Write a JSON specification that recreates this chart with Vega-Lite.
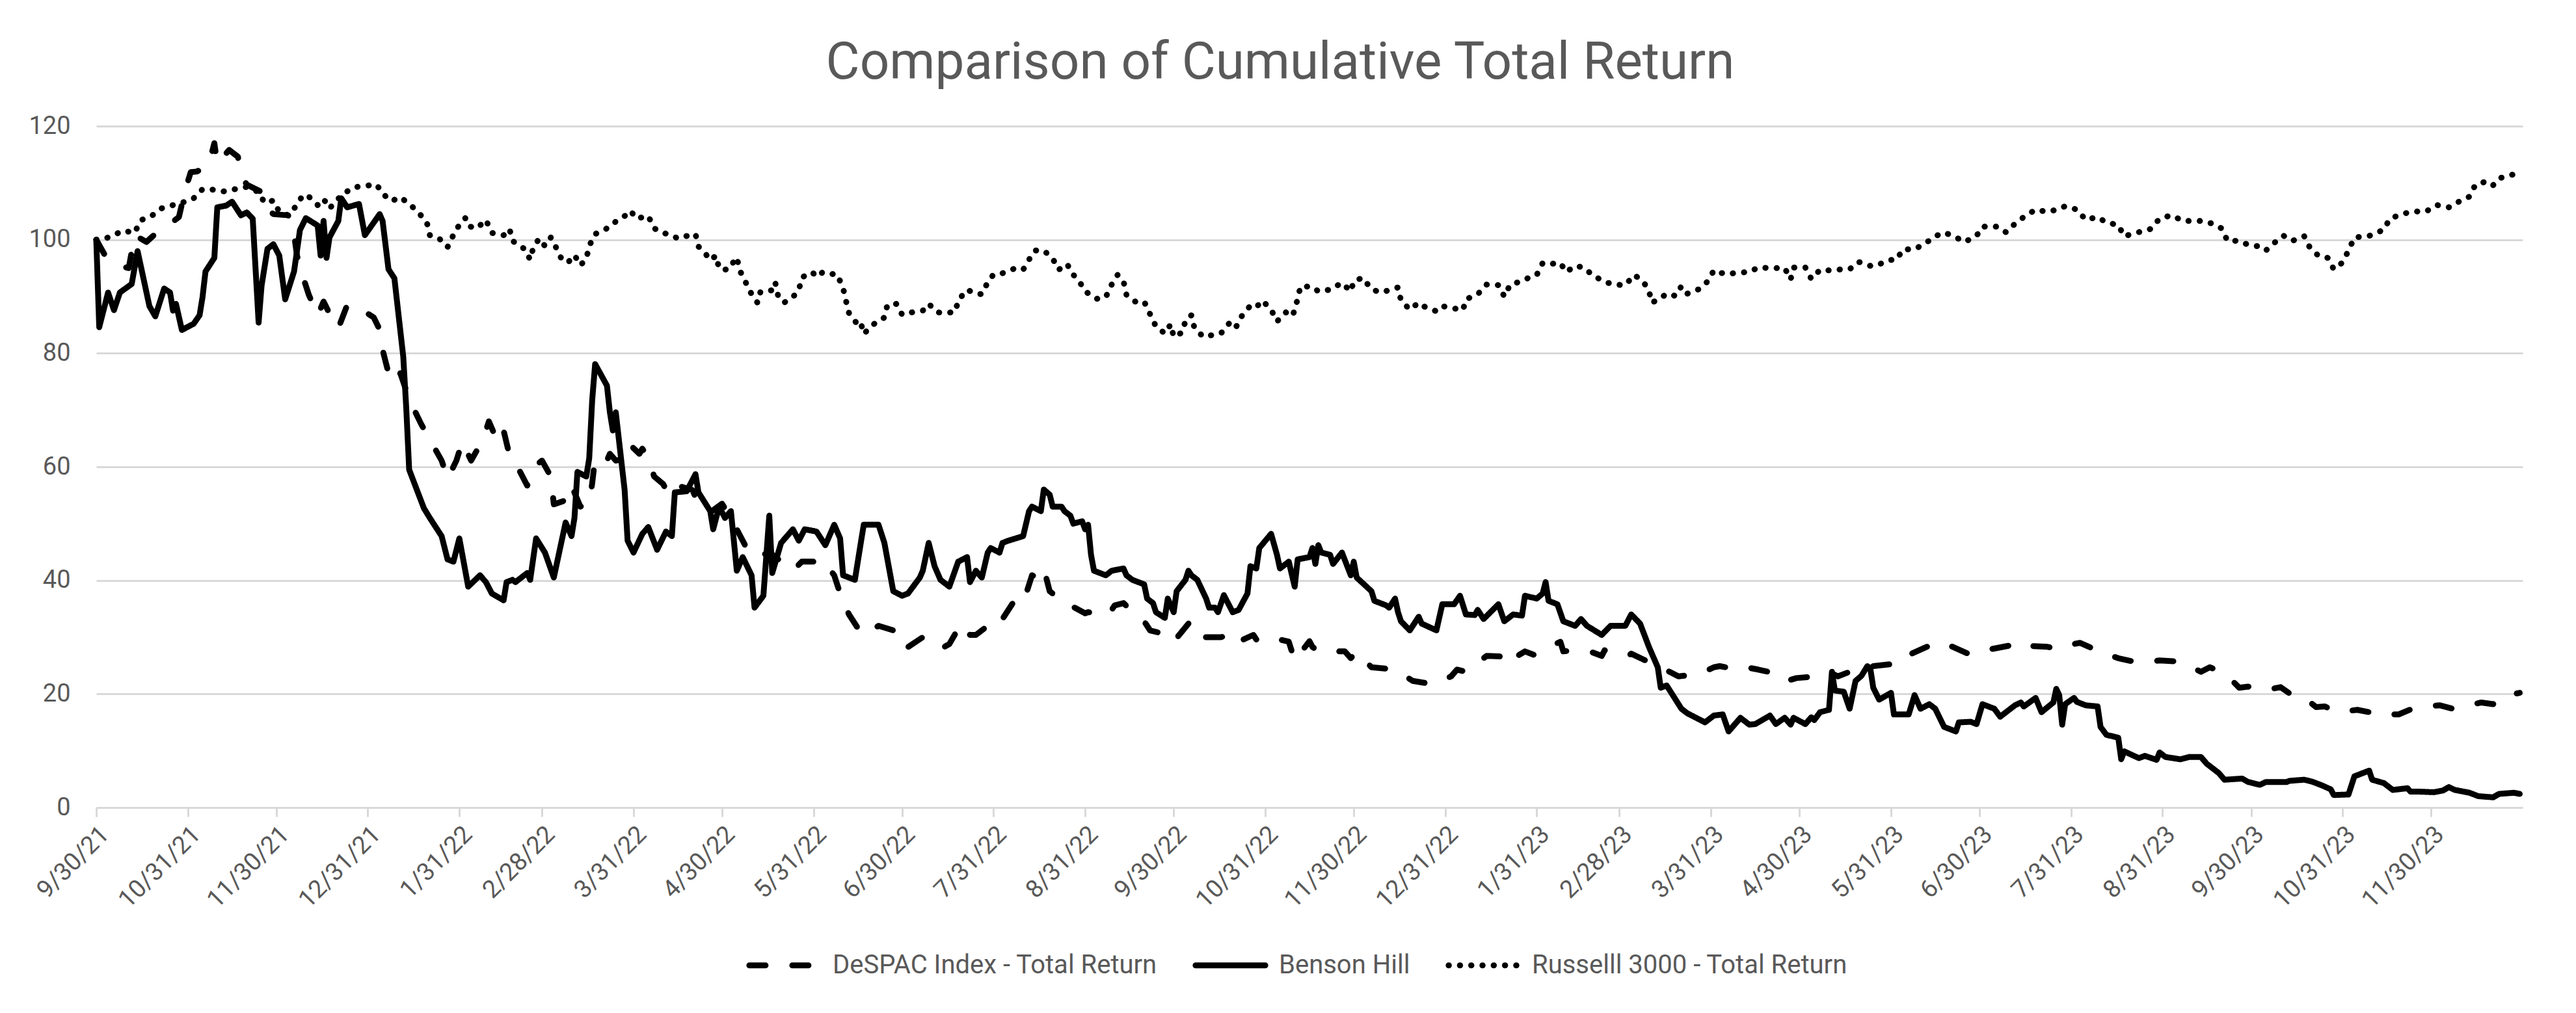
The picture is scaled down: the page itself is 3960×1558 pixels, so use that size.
{
"$schema":"https://vega.github.io/schema/vega-lite/v6.json",
"width":3730,"height":1048,
"autosize":{"type":"none"},
"padding":{"left":148,"top":194,"right":82,"bottom":316},
"background":"white",
"title":{"text":"Comparison of Cumulative Total Return","fontSize":80,"font":"Roboto","fontWeight":"normal","color":"#595959","anchor":"middle","offset":37,"dx":-45},
"config":{"view":{"stroke":null},"font":"Roboto"},
"datasets":{
"despac":[{"date":"2021-09-30","value":100},{"date":"2021-10-03","value":97.2},{"date":"2021-10-07","value":95.5},{"date":"2021-10-11","value":95},{"date":"2021-10-13","value":100.8},{"date":"2021-10-17","value":99.6},{"date":"2021-10-21","value":101.5},{"date":"2021-10-24","value":102.4},{"date":"2021-10-28","value":104},{"date":"2021-10-30","value":108.5},{"date":"2021-11-01","value":111.9},{"date":"2021-11-03","value":112},{"date":"2021-11-07","value":113},{"date":"2021-11-09","value":117},{"date":"2021-11-10","value":113.4},{"date":"2021-11-14","value":115.8},{"date":"2021-11-17","value":114.6},{"date":"2021-11-18","value":111.4},{"date":"2021-11-20","value":109.7},{"date":"2021-11-25","value":108.4},{"date":"2021-11-27","value":105.5},{"date":"2021-11-29","value":104.5},{"date":"2021-12-04","value":104.3},{"date":"2021-12-06","value":101},{"date":"2021-12-07","value":97.2},{"date":"2021-12-09","value":93.5},{"date":"2021-12-11","value":90.3},{"date":"2021-12-14","value":86.7},{"date":"2021-12-16","value":89.1},{"date":"2021-12-18","value":87},{"date":"2021-12-21","value":84.4},{"date":"2021-12-24","value":88.5},{"date":"2021-12-28","value":88},{"date":"2022-01-02","value":86.3},{"date":"2022-01-04","value":84.2},{"date":"2022-01-05","value":80.6},{"date":"2022-01-07","value":76.5},{"date":"2022-01-10","value":74.9},{"date":"2022-01-11","value":76.5},{"date":"2022-01-14","value":71.9},{"date":"2022-01-18","value":67.6},{"date":"2022-01-21","value":64.8},{"date":"2022-01-25","value":61.1},{"date":"2022-01-27","value":57.9},{"date":"2022-01-30","value":61.1},{"date":"2022-02-01","value":64.4},{"date":"2022-02-04","value":61.1},{"date":"2022-02-08","value":64.8},{"date":"2022-02-10","value":68},{"date":"2022-02-13","value":64.4},{"date":"2022-02-15","value":66.4},{"date":"2022-02-17","value":62},{"date":"2022-02-19","value":60.7},{"date":"2022-02-23","value":56.7},{"date":"2022-02-25","value":59.9},{"date":"2022-02-28","value":61.1},{"date":"2022-03-03","value":58.3},{"date":"2022-03-04","value":53.4},{"date":"2022-03-09","value":54.3},{"date":"2022-03-10","value":56.7},{"date":"2022-03-13","value":53},{"date":"2022-03-16","value":53.4},{"date":"2022-03-17","value":57.1},{"date":"2022-03-18","value":61.5},{"date":"2022-03-22","value":61.1},{"date":"2022-03-23","value":62.3},{"date":"2022-03-25","value":61.1},{"date":"2022-03-29","value":61.5},{"date":"2022-03-30","value":63.8},{"date":"2022-04-02","value":62.3},{"date":"2022-04-03","value":63.2},{"date":"2022-04-05","value":61.5},{"date":"2022-04-07","value":58.3},{"date":"2022-04-10","value":57},{"date":"2022-04-12","value":55.1},{"date":"2022-04-15","value":56.7},{"date":"2022-04-20","value":55.9},{"date":"2022-04-22","value":53.4},{"date":"2022-04-26","value":52},{"date":"2022-04-30","value":53.5},{"date":"2022-05-04","value":50},{"date":"2022-05-08","value":46},{"date":"2022-05-12","value":44},{"date":"2022-05-16","value":45},{"date":"2022-05-20","value":43.3},{"date":"2022-05-24","value":41.7},{"date":"2022-05-27","value":43.3},{"date":"2022-06-01","value":43.3},{"date":"2022-06-03","value":43.7},{"date":"2022-06-07","value":40.9},{"date":"2022-06-09","value":37.7},{"date":"2022-06-12","value":34},{"date":"2022-06-15","value":31.6},{"date":"2022-06-17","value":30.4},{"date":"2022-06-22","value":32},{"date":"2022-06-27","value":31.2},{"date":"2022-07-01","value":27.9},{"date":"2022-07-07","value":30},{"date":"2022-07-11","value":29.6},{"date":"2022-07-14","value":28.2},{"date":"2022-07-16","value":28.8},{"date":"2022-07-20","value":32.4},{"date":"2022-07-23","value":30.4},{"date":"2022-07-25","value":30.4},{"date":"2022-07-29","value":32},{"date":"2022-07-30","value":32.8},{"date":"2022-08-02","value":32.4},{"date":"2022-08-07","value":36.4},{"date":"2022-08-10","value":36},{"date":"2022-08-13","value":40.9},{"date":"2022-08-15","value":40.5},{"date":"2022-08-17","value":42.1},{"date":"2022-08-19","value":38.1},{"date":"2022-08-24","value":36},{"date":"2022-08-26","value":35.6},{"date":"2022-08-31","value":34.2},{"date":"2022-09-01","value":34.4},{"date":"2022-09-08","value":34},{"date":"2022-09-10","value":35.6},{"date":"2022-09-13","value":36},{"date":"2022-09-17","value":34},{"date":"2022-09-20","value":32.8},{"date":"2022-09-21","value":32},{"date":"2022-09-22","value":31.2},{"date":"2022-09-28","value":30.4},{"date":"2022-09-30","value":29.2},{"date":"2022-10-05","value":32.4},{"date":"2022-10-07","value":32},{"date":"2022-10-08","value":30},{"date":"2022-10-16","value":30},{"date":"2022-10-19","value":30.4},{"date":"2022-10-20","value":29.2},{"date":"2022-10-22","value":29.2},{"date":"2022-10-27","value":30.4},{"date":"2022-10-28","value":29.6},{"date":"2022-10-29","value":30},{"date":"2022-11-01","value":30.1},{"date":"2022-11-08","value":29.2},{"date":"2022-11-10","value":25.9},{"date":"2022-11-15","value":29.3},{"date":"2022-11-16","value":28.3},{"date":"2022-11-18","value":27.5},{"date":"2022-11-20","value":27.5},{"date":"2022-11-27","value":27.5},{"date":"2022-11-29","value":26.3},{"date":"2022-12-01","value":27.5},{"date":"2022-12-06","value":24.7},{"date":"2022-12-14","value":24.3},{"date":"2022-12-20","value":22.3},{"date":"2022-12-27","value":21.7},{"date":"2023-01-02","value":23.1},{"date":"2023-01-04","value":24.3},{"date":"2023-01-07","value":23.9},{"date":"2023-01-14","value":26.7},{"date":"2023-01-19","value":26.6},{"date":"2023-01-20","value":25.3},{"date":"2023-01-27","value":27.5},{"date":"2023-01-30","value":26.9},{"date":"2023-02-01","value":27.5},{"date":"2023-02-08","value":29.2},{"date":"2023-02-09","value":27.5},{"date":"2023-02-13","value":27.7},{"date":"2023-02-18","value":27.5},{"date":"2023-02-22","value":26.7},{"date":"2023-02-23","value":27.7},{"date":"2023-02-25","value":27.5},{"date":"2023-03-03","value":26.7},{"date":"2023-03-04","value":27.1},{"date":"2023-03-08","value":26.1},{"date":"2023-03-14","value":24.7},{"date":"2023-03-20","value":23.1},{"date":"2023-03-27","value":23.5},{"date":"2023-04-01","value":24.7},{"date":"2023-04-03","value":24.9},{"date":"2023-04-09","value":24.3},{"date":"2023-04-12","value":24.7},{"date":"2023-04-16","value":24.3},{"date":"2023-04-23","value":23.5},{"date":"2023-04-26","value":22.3},{"date":"2023-04-27","value":22.5},{"date":"2023-04-29","value":22.8},{"date":"2023-05-06","value":23.1},{"date":"2023-05-10","value":23.9},{"date":"2023-05-13","value":23.1},{"date":"2023-05-19","value":24.3},{"date":"2023-05-25","value":24.9},{"date":"2023-06-01","value":25.3},{"date":"2023-06-03","value":26.3},{"date":"2023-06-06","value":26.6},{"date":"2023-06-07","value":27.1},{"date":"2023-06-13","value":28.5},{"date":"2023-06-15","value":27.9},{"date":"2023-06-20","value":28.5},{"date":"2023-06-27","value":26.9},{"date":"2023-07-04","value":27.9},{"date":"2023-07-10","value":28.5},{"date":"2023-07-13","value":29.2},{"date":"2023-07-16","value":28.5},{"date":"2023-07-23","value":28.3},{"date":"2023-07-27","value":27.9},{"date":"2023-07-29","value":28.5},{"date":"2023-08-03","value":29},{"date":"2023-08-10","value":27.4},{"date":"2023-08-16","value":26.3},{"date":"2023-08-23","value":25.5},{"date":"2023-08-30","value":25.9},{"date":"2023-09-06","value":25.7},{"date":"2023-09-13","value":23.9},{"date":"2023-09-16","value":24.7},{"date":"2023-09-21","value":23.7},{"date":"2023-09-26","value":21.1},{"date":"2023-09-29","value":21.3},{"date":"2023-10-04","value":20.6},{"date":"2023-10-10","value":21.2},{"date":"2023-10-13","value":20.1},{"date":"2023-10-17","value":19.8},{"date":"2023-10-22","value":17.7},{"date":"2023-10-25","value":17.8},{"date":"2023-10-29","value":16.8},{"date":"2023-11-05","value":17.2},{"date":"2023-11-09","value":16.8},{"date":"2023-11-10","value":16.4},{"date":"2023-11-13","value":16.4},{"date":"2023-11-19","value":16.4},{"date":"2023-11-25","value":17.7},{"date":"2023-12-03","value":18},{"date":"2023-12-08","value":17.3},{"date":"2023-12-10","value":17.7},{"date":"2023-12-17","value":18.5},{"date":"2023-12-21","value":18.2},{"date":"2023-12-24","value":19.6},{"date":"2023-12-27","value":19.9},{"date":"2023-12-30","value":20.2}],
"benson":[{"date":"2021-09-30","value":100},{"date":"2021-10-01","value":84.6},{"date":"2021-10-04","value":90.7},{"date":"2021-10-06","value":87.6},{"date":"2021-10-08","value":90.7},{"date":"2021-10-12","value":92.2},{"date":"2021-10-14","value":98},{"date":"2021-10-18","value":88.3},{"date":"2021-10-20","value":86.5},{"date":"2021-10-23","value":91.4},{"date":"2021-10-25","value":90.7},{"date":"2021-10-26","value":87.5},{"date":"2021-10-27","value":88.7},{"date":"2021-10-29","value":84.1},{"date":"2021-11-02","value":85.2},{"date":"2021-11-04","value":86.7},{"date":"2021-11-05","value":89.9},{"date":"2021-11-06","value":94.4},{"date":"2021-11-09","value":96.8},{"date":"2021-11-10","value":105.7},{"date":"2021-11-13","value":106},{"date":"2021-11-15","value":106.7},{"date":"2021-11-18","value":104.3},{"date":"2021-11-20","value":104.8},{"date":"2021-11-22","value":103.7},{"date":"2021-11-24","value":85.4},{"date":"2021-11-25","value":91.9},{"date":"2021-11-27","value":98.4},{"date":"2021-11-29","value":99.2},{"date":"2021-12-01","value":97.2},{"date":"2021-12-03","value":89.5},{"date":"2021-12-06","value":94.4},{"date":"2021-12-08","value":101.7},{"date":"2021-12-10","value":103.8},{"date":"2021-12-14","value":102.5},{"date":"2021-12-15","value":97.2},{"date":"2021-12-16","value":103.3},{"date":"2021-12-17","value":96.8},{"date":"2021-12-18","value":100.4},{"date":"2021-12-21","value":103.3},{"date":"2021-12-22","value":107.3},{"date":"2021-12-24","value":105.7},{"date":"2021-12-28","value":106.3},{"date":"2021-12-30","value":100.8},{"date":"2022-01-04","value":104.5},{"date":"2022-01-05","value":103.3},{"date":"2022-01-07","value":94.8},{"date":"2022-01-09","value":93.2},{"date":"2022-01-12","value":79.4},{"date":"2022-01-13","value":70.5},{"date":"2022-01-14","value":59.5},{"date":"2022-01-19","value":52.7},{"date":"2022-01-21","value":51},{"date":"2022-01-25","value":47.8},{"date":"2022-01-27","value":43.7},{"date":"2022-01-29","value":43.3},{"date":"2022-01-31","value":47.4},{"date":"2022-02-03","value":38.9},{"date":"2022-02-07","value":40.9},{"date":"2022-02-09","value":39.7},{"date":"2022-02-11","value":37.7},{"date":"2022-02-15","value":36.5},{"date":"2022-02-16","value":39.7},{"date":"2022-02-18","value":40.1},{"date":"2022-02-19","value":39.7},{"date":"2022-02-23","value":41.3},{"date":"2022-02-24","value":40.1},{"date":"2022-02-26","value":47.4},{"date":"2022-03-01","value":44.9},{"date":"2022-03-04","value":40.5},{"date":"2022-03-08","value":50.2},{"date":"2022-03-10","value":47.8},{"date":"2022-03-11","value":51},{"date":"2022-03-12","value":59.1},{"date":"2022-03-15","value":58.3},{"date":"2022-03-16","value":61.5},{"date":"2022-03-17","value":71.7},{"date":"2022-03-18","value":78.1},{"date":"2022-03-22","value":74.3},{"date":"2022-03-23","value":69.6},{"date":"2022-03-24","value":66.4},{"date":"2022-03-25","value":69.6},{"date":"2022-03-28","value":55.9},{"date":"2022-03-29","value":47},{"date":"2022-03-31","value":44.9},{"date":"2022-04-03","value":48.2},{"date":"2022-04-05","value":49.4},{"date":"2022-04-08","value":45.4},{"date":"2022-04-11","value":48.6},{"date":"2022-04-13","value":47.8},{"date":"2022-04-14","value":55.5},{"date":"2022-04-18","value":55.7},{"date":"2022-04-21","value":58.7},{"date":"2022-04-22","value":55.5},{"date":"2022-04-26","value":52.2},{"date":"2022-04-27","value":49},{"date":"2022-04-29","value":53},{"date":"2022-05-01","value":51},{"date":"2022-05-03","value":52.2},{"date":"2022-05-05","value":41.7},{"date":"2022-05-07","value":44.1},{"date":"2022-05-10","value":40.9},{"date":"2022-05-11","value":35.2},{"date":"2022-05-14","value":37.3},{"date":"2022-05-16","value":51.4},{"date":"2022-05-17","value":41.3},{"date":"2022-05-20","value":46.6},{"date":"2022-05-24","value":49},{"date":"2022-05-26","value":47},{"date":"2022-05-28","value":49},{"date":"2022-06-01","value":48.6},{"date":"2022-06-04","value":46.2},{"date":"2022-06-07","value":49.8},{"date":"2022-06-09","value":47.4},{"date":"2022-06-10","value":40.9},{"date":"2022-06-14","value":40.1},{"date":"2022-06-16","value":46.6},{"date":"2022-06-17","value":49.8},{"date":"2022-06-22","value":49.8},{"date":"2022-06-24","value":46.6},{"date":"2022-06-27","value":38.1},{"date":"2022-06-30","value":37.3},{"date":"2022-07-02","value":37.7},{"date":"2022-07-06","value":40.5},{"date":"2022-07-07","value":41.7},{"date":"2022-07-09","value":46.6},{"date":"2022-07-11","value":42.5},{"date":"2022-07-13","value":40.1},{"date":"2022-07-16","value":38.9},{"date":"2022-07-19","value":43.3},{"date":"2022-07-22","value":44.1},{"date":"2022-07-23","value":39.7},{"date":"2022-07-25","value":41.7},{"date":"2022-07-27","value":40.5},{"date":"2022-07-29","value":44.9},{"date":"2022-07-30","value":45.7},{"date":"2022-08-02","value":44.9},{"date":"2022-08-03","value":46.6},{"date":"2022-08-05","value":47},{"date":"2022-08-10","value":47.8},{"date":"2022-08-12","value":52.2},{"date":"2022-08-13","value":53},{"date":"2022-08-16","value":52.2},{"date":"2022-08-17","value":56},{"date":"2022-08-19","value":55.1},{"date":"2022-08-20","value":53},{"date":"2022-08-23","value":53},{"date":"2022-08-24","value":52.2},{"date":"2022-08-26","value":51.4},{"date":"2022-08-27","value":50},{"date":"2022-08-30","value":50.4},{"date":"2022-08-31","value":49},{"date":"2022-09-01","value":49.8},{"date":"2022-09-02","value":44.5},{"date":"2022-09-03","value":41.7},{"date":"2022-09-07","value":40.9},{"date":"2022-09-09","value":41.7},{"date":"2022-09-13","value":42.1},{"date":"2022-09-14","value":40.9},{"date":"2022-09-16","value":40.1},{"date":"2022-09-20","value":39.3},{"date":"2022-09-21","value":36.8},{"date":"2022-09-23","value":36},{"date":"2022-09-24","value":34.4},{"date":"2022-09-27","value":33.4},{"date":"2022-09-28","value":36.8},{"date":"2022-09-30","value":34.4},{"date":"2022-10-01","value":38.1},{"date":"2022-10-04","value":40.1},{"date":"2022-10-05","value":41.7},{"date":"2022-10-06","value":40.9},{"date":"2022-10-08","value":40.1},{"date":"2022-10-11","value":36.8},{"date":"2022-10-12","value":35.2},{"date":"2022-10-14","value":35.2},{"date":"2022-10-15","value":34.4},{"date":"2022-10-17","value":37.4},{"date":"2022-10-20","value":34.4},{"date":"2022-10-22","value":34.8},{"date":"2022-10-25","value":37.7},{"date":"2022-10-26","value":42.5},{"date":"2022-10-28","value":42.1},{"date":"2022-10-29","value":45.7},{"date":"2022-11-02","value":48.2},{"date":"2022-11-04","value":44.5},{"date":"2022-11-05","value":42.1},{"date":"2022-11-08","value":43.3},{"date":"2022-11-10","value":38.9},{"date":"2022-11-11","value":43.7},{"date":"2022-11-15","value":44.1},{"date":"2022-11-16","value":45.7},{"date":"2022-11-17","value":42.9},{"date":"2022-11-18","value":46.2},{"date":"2022-11-19","value":44.9},{"date":"2022-11-22","value":44.5},{"date":"2022-11-23","value":42.9},{"date":"2022-11-26","value":44.9},{"date":"2022-11-29","value":40.9},{"date":"2022-11-30","value":43.3},{"date":"2022-12-01","value":40.5},{"date":"2022-12-06","value":38.1},{"date":"2022-12-07","value":36.4},{"date":"2022-12-11","value":35.6},{"date":"2022-12-12","value":35.2},{"date":"2022-12-14","value":36.8},{"date":"2022-12-15","value":34.4},{"date":"2022-12-16","value":32.8},{"date":"2022-12-19","value":31.2},{"date":"2022-12-22","value":33.6},{"date":"2022-12-23","value":32.4},{"date":"2022-12-28","value":31.2},{"date":"2022-12-30","value":35.8},{"date":"2023-01-03","value":35.8},{"date":"2023-01-05","value":37.3},{"date":"2023-01-07","value":34},{"date":"2023-01-10","value":33.9},{"date":"2023-01-11","value":34.8},{"date":"2023-01-13","value":33.2},{"date":"2023-01-18","value":35.8},{"date":"2023-01-20","value":32.8},{"date":"2023-01-23","value":34},{"date":"2023-01-26","value":33.8},{"date":"2023-01-27","value":37.3},{"date":"2023-01-31","value":36.8},{"date":"2023-02-02","value":37.7},{"date":"2023-02-03","value":39.7},{"date":"2023-02-04","value":36.4},{"date":"2023-02-07","value":35.8},{"date":"2023-02-09","value":32.8},{"date":"2023-02-13","value":32},{"date":"2023-02-15","value":33.2},{"date":"2023-02-17","value":32},{"date":"2023-02-22","value":30.4},{"date":"2023-02-25","value":32},{"date":"2023-02-28","value":32},{"date":"2023-03-02","value":32},{"date":"2023-03-04","value":34},{"date":"2023-03-07","value":32.4},{"date":"2023-03-10","value":28.3},{"date":"2023-03-13","value":24.7},{"date":"2023-03-14","value":21.1},{"date":"2023-03-16","value":21.5},{"date":"2023-03-21","value":17.4},{"date":"2023-03-23","value":16.6},{"date":"2023-03-29","value":15},{"date":"2023-04-01","value":16.2},{"date":"2023-04-04","value":16.4},{"date":"2023-04-06","value":13.4},{"date":"2023-04-10","value":15.8},{"date":"2023-04-13","value":14.6},{"date":"2023-04-15","value":14.7},{"date":"2023-04-20","value":16.2},{"date":"2023-04-22","value":14.7},{"date":"2023-04-25","value":15.8},{"date":"2023-04-27","value":14.6},{"date":"2023-04-28","value":15.8},{"date":"2023-05-02","value":14.7},{"date":"2023-05-04","value":15.9},{"date":"2023-05-05","value":15.4},{"date":"2023-05-07","value":16.8},{"date":"2023-05-10","value":17.2},{"date":"2023-05-11","value":23.9},{"date":"2023-05-12","value":20.6},{"date":"2023-05-15","value":20.4},{"date":"2023-05-17","value":17.4},{"date":"2023-05-19","value":22.3},{"date":"2023-05-21","value":23.2},{"date":"2023-05-23","value":24.9},{"date":"2023-05-24","value":24.5},{"date":"2023-05-25","value":21.1},{"date":"2023-05-27","value":19},{"date":"2023-05-31","value":20.2},{"date":"2023-06-01","value":16.4},{"date":"2023-06-06","value":16.4},{"date":"2023-06-08","value":19.8},{"date":"2023-06-10","value":17.4},{"date":"2023-06-13","value":18.2},{"date":"2023-06-15","value":17.4},{"date":"2023-06-18","value":14.2},{"date":"2023-06-22","value":13.4},{"date":"2023-06-23","value":15},{"date":"2023-06-27","value":15.1},{"date":"2023-06-29","value":14.7},{"date":"2023-07-01","value":18.2},{"date":"2023-07-05","value":17.4},{"date":"2023-07-07","value":16},{"date":"2023-07-12","value":18},{"date":"2023-07-14","value":18.5},{"date":"2023-07-15","value":17.8},{"date":"2023-07-19","value":19.3},{"date":"2023-07-21","value":16.8},{"date":"2023-07-25","value":18.5},{"date":"2023-07-26","value":20.9},{"date":"2023-07-27","value":19.8},{"date":"2023-07-28","value":14.6},{"date":"2023-07-29","value":18.2},{"date":"2023-08-01","value":19.3},{"date":"2023-08-02","value":18.6},{"date":"2023-08-05","value":18},{"date":"2023-08-09","value":17.8},{"date":"2023-08-10","value":14.2},{"date":"2023-08-12","value":12.8},{"date":"2023-08-16","value":12.3},{"date":"2023-08-17","value":8.5},{"date":"2023-08-18","value":9.9},{"date":"2023-08-23","value":8.7},{"date":"2023-08-25","value":9.1},{"date":"2023-08-29","value":8.4},{"date":"2023-08-30","value":9.7},{"date":"2023-09-01","value":8.9},{"date":"2023-09-06","value":8.5},{"date":"2023-09-09","value":8.9},{"date":"2023-09-13","value":8.9},{"date":"2023-09-15","value":7.7},{"date":"2023-09-17","value":6.9},{"date":"2023-09-19","value":6.1},{"date":"2023-09-21","value":4.9},{"date":"2023-09-27","value":5.1},{"date":"2023-09-29","value":4.5},{"date":"2023-10-03","value":4},{"date":"2023-10-05","value":4.5},{"date":"2023-10-12","value":4.5},{"date":"2023-10-13","value":4.7},{"date":"2023-10-18","value":4.9},{"date":"2023-10-21","value":4.5},{"date":"2023-10-24","value":3.9},{"date":"2023-10-27","value":3.2},{"date":"2023-10-28","value":2.2},{"date":"2023-11-02","value":2.3},{"date":"2023-11-04","value":5.5},{"date":"2023-11-09","value":6.5},{"date":"2023-11-10","value":4.9},{"date":"2023-11-14","value":4.3},{"date":"2023-11-17","value":3.1},{"date":"2023-11-22","value":3.4},{"date":"2023-11-23","value":2.8},{"date":"2023-11-26","value":2.8},{"date":"2023-12-01","value":2.7},{"date":"2023-12-04","value":3},{"date":"2023-12-06","value":3.6},{"date":"2023-12-08","value":3.1},{"date":"2023-12-13","value":2.6},{"date":"2023-12-16","value":2},{"date":"2023-12-21","value":1.8},{"date":"2023-12-23","value":2.4},{"date":"2023-12-28","value":2.6},{"date":"2023-12-30","value":2.4}],
"russell":[{"date":"2021-09-30","value":100},{"date":"2021-10-03","value":100.2},{"date":"2021-10-06","value":100.8},{"date":"2021-10-09","value":101.6},{"date":"2021-10-13","value":101.2},{"date":"2021-10-15","value":103.4},{"date":"2021-10-19","value":104.3},{"date":"2021-10-22","value":105.5},{"date":"2021-10-26","value":106.1},{"date":"2021-10-29","value":106.5},{"date":"2021-11-02","value":107.3},{"date":"2021-11-05","value":108.9},{"date":"2021-11-09","value":108.8},{"date":"2021-11-12","value":108.5},{"date":"2021-11-16","value":108.9},{"date":"2021-11-20","value":109.3},{"date":"2021-11-24","value":108.4},{"date":"2021-11-26","value":106.5},{"date":"2021-11-29","value":106.9},{"date":"2021-12-01","value":104.9},{"date":"2021-12-04","value":104.3},{"date":"2021-12-07","value":106.1},{"date":"2021-12-09","value":107.9},{"date":"2021-12-11","value":107.6},{"date":"2021-12-14","value":106.1},{"date":"2021-12-16","value":107.2},{"date":"2021-12-18","value":105.5},{"date":"2021-12-22","value":107.8},{"date":"2021-12-26","value":109.2},{"date":"2021-12-30","value":109.5},{"date":"2022-01-03","value":109.7},{"date":"2022-01-05","value":108.1},{"date":"2022-01-08","value":106.8},{"date":"2022-01-11","value":107.5},{"date":"2022-01-14","value":106.3},{"date":"2022-01-17","value":104.9},{"date":"2022-01-20","value":103},{"date":"2022-01-21","value":100.8},{"date":"2022-01-24","value":100.3},{"date":"2022-01-27","value":98.7},{"date":"2022-01-28","value":99.8},{"date":"2022-01-30","value":101.9},{"date":"2022-02-02","value":103.8},{"date":"2022-02-03","value":102.4},{"date":"2022-02-06","value":102},{"date":"2022-02-09","value":103.5},{"date":"2022-02-11","value":101.2},{"date":"2022-02-15","value":100.8},{"date":"2022-02-17","value":101.9},{"date":"2022-02-18","value":99.8},{"date":"2022-02-22","value":98.4},{"date":"2022-02-24","value":96.5},{"date":"2022-02-25","value":98.5},{"date":"2022-02-27","value":100.2},{"date":"2022-03-01","value":98.9},{"date":"2022-03-03","value":100.4},{"date":"2022-03-05","value":98.4},{"date":"2022-03-07","value":96.2},{"date":"2022-03-09","value":96.1},{"date":"2022-03-11","value":97.3},{"date":"2022-03-13","value":95.5},{"date":"2022-03-15","value":96.6},{"date":"2022-03-16","value":98.9},{"date":"2022-03-18","value":101},{"date":"2022-03-21","value":101.7},{"date":"2022-03-23","value":102.3},{"date":"2022-03-25","value":103.2},{"date":"2022-03-29","value":104.5},{"date":"2022-03-30","value":105.1},{"date":"2022-04-01","value":103.7},{"date":"2022-04-05","value":104.2},{"date":"2022-04-07","value":102},{"date":"2022-04-10","value":101.2},{"date":"2022-04-13","value":100.8},{"date":"2022-04-15","value":100.2},{"date":"2022-04-19","value":100.8},{"date":"2022-04-21","value":101},{"date":"2022-04-22","value":98.8},{"date":"2022-04-24","value":97.8},{"date":"2022-04-26","value":96.4},{"date":"2022-04-28","value":97.2},{"date":"2022-04-29","value":94.9},{"date":"2022-05-02","value":94.7},{"date":"2022-05-05","value":96.9},{"date":"2022-05-06","value":94.6},{"date":"2022-05-08","value":92.5},{"date":"2022-05-10","value":90.4},{"date":"2022-05-12","value":88.9},{"date":"2022-05-13","value":90.8},{"date":"2022-05-17","value":91.1},{"date":"2022-05-18","value":92.5},{"date":"2022-05-19","value":90.1},{"date":"2022-05-21","value":88.9},{"date":"2022-05-24","value":89.9},{"date":"2022-05-26","value":91.1},{"date":"2022-05-27","value":93.3},{"date":"2022-05-30","value":94.3},{"date":"2022-06-02","value":93.5},{"date":"2022-06-03","value":94.3},{"date":"2022-06-07","value":93.9},{"date":"2022-06-08","value":93.9},{"date":"2022-06-10","value":91.5},{"date":"2022-06-11","value":89.2},{"date":"2022-06-12","value":87.1},{"date":"2022-06-15","value":85},{"date":"2022-06-16","value":85.4},{"date":"2022-06-17","value":83.4},{"date":"2022-06-20","value":85},{"date":"2022-06-24","value":86.3},{"date":"2022-06-25","value":88.5},{"date":"2022-06-28","value":88.7},{"date":"2022-06-30","value":86.8},{"date":"2022-07-02","value":87.1},{"date":"2022-07-07","value":87.5},{"date":"2022-07-09","value":88.7},{"date":"2022-07-12","value":87.2},{"date":"2022-07-15","value":87.1},{"date":"2022-07-18","value":87.3},{"date":"2022-07-19","value":89.3},{"date":"2022-07-22","value":91.2},{"date":"2022-07-25","value":90.5},{"date":"2022-07-27","value":90.4},{"date":"2022-07-29","value":92.5},{"date":"2022-07-31","value":93.9},{"date":"2022-08-03","value":94.1},{"date":"2022-08-07","value":94.9},{"date":"2022-08-10","value":94.7},{"date":"2022-08-12","value":96.5},{"date":"2022-08-14","value":98.1},{"date":"2022-08-17","value":98.1},{"date":"2022-08-20","value":96.7},{"date":"2022-08-22","value":94.7},{"date":"2022-08-25","value":95.7},{"date":"2022-08-26","value":94.4},{"date":"2022-08-29","value":92.7},{"date":"2022-08-31","value":90.9},{"date":"2022-09-04","value":89.6},{"date":"2022-09-07","value":89.9},{"date":"2022-09-09","value":92.1},{"date":"2022-09-11","value":93.8},{"date":"2022-09-13","value":92.7},{"date":"2022-09-14","value":90.3},{"date":"2022-09-17","value":89.1},{"date":"2022-09-20","value":89.1},{"date":"2022-09-22","value":86.9},{"date":"2022-09-24","value":84.7},{"date":"2022-09-27","value":83.5},{"date":"2022-09-29","value":85.1},{"date":"2022-09-30","value":82.9},{"date":"2022-10-03","value":83.7},{"date":"2022-10-04","value":85.8},{"date":"2022-10-06","value":86.7},{"date":"2022-10-07","value":84.5},{"date":"2022-10-10","value":82.9},{"date":"2022-10-13","value":83.2},{"date":"2022-10-16","value":83.5},{"date":"2022-10-19","value":85.4},{"date":"2022-10-21","value":84.5},{"date":"2022-10-23","value":86.5},{"date":"2022-10-26","value":88.4},{"date":"2022-10-28","value":88.1},{"date":"2022-10-30","value":89.3},{"date":"2022-11-02","value":87.7},{"date":"2022-11-04","value":85.6},{"date":"2022-11-07","value":87.2},{"date":"2022-11-09","value":86.5},{"date":"2022-11-10","value":87.5},{"date":"2022-11-12","value":91.8},{"date":"2022-11-16","value":91.7},{"date":"2022-11-18","value":90.9},{"date":"2022-11-22","value":91.2},{"date":"2022-11-26","value":92.4},{"date":"2022-11-29","value":90.9},{"date":"2022-11-30","value":92.7},{"date":"2022-12-03","value":93.3},{"date":"2022-12-06","value":91.3},{"date":"2022-12-09","value":90.7},{"date":"2022-12-12","value":91.1},{"date":"2022-12-15","value":91.6},{"date":"2022-12-16","value":89.3},{"date":"2022-12-19","value":87.7},{"date":"2022-12-22","value":88.9},{"date":"2022-12-24","value":88.2},{"date":"2022-12-28","value":87.4},{"date":"2022-12-30","value":88.3},{"date":"2023-01-03","value":87.9},{"date":"2023-01-06","value":87.6},{"date":"2023-01-07","value":89.5},{"date":"2023-01-11","value":90.4},{"date":"2023-01-14","value":92.1},{"date":"2023-01-18","value":92},{"date":"2023-01-20","value":90},{"date":"2023-01-22","value":92.1},{"date":"2023-01-26","value":92.7},{"date":"2023-01-29","value":93.5},{"date":"2023-01-31","value":93.8},{"date":"2023-02-02","value":95.9},{"date":"2023-02-04","value":95.7},{"date":"2023-02-08","value":95.9},{"date":"2023-02-10","value":94.3},{"date":"2023-02-13","value":95.4},{"date":"2023-02-16","value":95.1},{"date":"2023-02-19","value":93.7},{"date":"2023-02-23","value":92.6},{"date":"2023-02-26","value":92.1},{"date":"2023-03-02","value":92},{"date":"2023-03-05","value":93.8},{"date":"2023-03-08","value":92.7},{"date":"2023-03-10","value":91},{"date":"2023-03-11","value":88.9},{"date":"2023-03-14","value":89.7},{"date":"2023-03-16","value":90.5},{"date":"2023-03-19","value":90.1},{"date":"2023-03-21","value":91.8},{"date":"2023-03-23","value":90.5},{"date":"2023-03-27","value":91.3},{"date":"2023-03-30","value":92.7},{"date":"2023-04-01","value":94.6},{"date":"2023-04-05","value":93.9},{"date":"2023-04-09","value":94.2},{"date":"2023-04-13","value":94.3},{"date":"2023-04-16","value":95.1},{"date":"2023-04-21","value":95},{"date":"2023-04-25","value":95},{"date":"2023-04-27","value":93},{"date":"2023-04-28","value":95.1},{"date":"2023-05-02","value":95.1},{"date":"2023-05-04","value":93.1},{"date":"2023-05-07","value":94.7},{"date":"2023-05-10","value":94.6},{"date":"2023-05-15","value":94.8},{"date":"2023-05-17","value":94.8},{"date":"2023-05-20","value":96.1},{"date":"2023-05-24","value":95.4},{"date":"2023-05-26","value":95.4},{"date":"2023-05-30","value":96.4},{"date":"2023-06-02","value":96.5},{"date":"2023-06-04","value":98.3},{"date":"2023-06-08","value":98.3},{"date":"2023-06-12","value":99.5},{"date":"2023-06-15","value":100.6},{"date":"2023-06-18","value":101.3},{"date":"2023-06-22","value":100.4},{"date":"2023-06-25","value":99.6},{"date":"2023-06-29","value":100.7},{"date":"2023-07-01","value":102.3},{"date":"2023-07-06","value":102.3},{"date":"2023-07-09","value":101.3},{"date":"2023-07-12","value":102.8},{"date":"2023-07-15","value":104},{"date":"2023-07-19","value":105.3},{"date":"2023-07-23","value":104.9},{"date":"2023-07-27","value":105.4},{"date":"2023-07-29","value":105.9},{"date":"2023-08-02","value":105.3},{"date":"2023-08-05","value":103.5},{"date":"2023-08-09","value":104},{"date":"2023-08-12","value":103},{"date":"2023-08-16","value":102.6},{"date":"2023-08-18","value":100.6},{"date":"2023-08-22","value":101.2},{"date":"2023-08-25","value":101.6},{"date":"2023-08-27","value":101.9},{"date":"2023-08-30","value":103.7},{"date":"2023-09-03","value":104.3},{"date":"2023-09-07","value":103.3},{"date":"2023-09-11","value":103.3},{"date":"2023-09-14","value":103.3},{"date":"2023-09-17","value":102.8},{"date":"2023-09-20","value":102},{"date":"2023-09-22","value":99.8},{"date":"2023-09-26","value":99.8},{"date":"2023-09-29","value":99.1},{"date":"2023-10-03","value":98.8},{"date":"2023-10-05","value":98.1},{"date":"2023-10-08","value":99.5},{"date":"2023-10-11","value":100.7},{"date":"2023-10-14","value":99.8},{"date":"2023-10-18","value":100.6},{"date":"2023-10-20","value":98.5},{"date":"2023-10-23","value":97.1},{"date":"2023-10-26","value":96.8},{"date":"2023-10-28","value":94.8},{"date":"2023-10-31","value":96},{"date":"2023-11-02","value":98.1},{"date":"2023-11-04","value":100.4},{"date":"2023-11-08","value":100.6},{"date":"2023-11-10","value":100.8},{"date":"2023-11-14","value":101.8},{"date":"2023-11-16","value":103.7},{"date":"2023-11-20","value":104.5},{"date":"2023-11-24","value":105},{"date":"2023-11-28","value":104.9},{"date":"2023-12-02","value":106.1},{"date":"2023-12-06","value":105.7},{"date":"2023-12-09","value":106.6},{"date":"2023-12-13","value":107.6},{"date":"2023-12-15","value":109.7},{"date":"2023-12-19","value":110.3},{"date":"2023-12-21","value":109.6},{"date":"2023-12-23","value":110.8},{"date":"2023-12-27","value":111.4},{"date":"2023-12-30","value":111.7}]
},
"encoding":{
"x":{"field":"date","type":"temporal",
 "scale":{"type":"utc","domain":[{"year":2021,"month":9,"date":30,"utc":true},{"year":2023,"month":12,"date":31,"utc":true}]},
 "axis":{"title":null,"labelExpr":"utcFormat(datum.value, '%-m/%-d/%y')","labelAngle":-45,"labelOverlap":false,"grid":false,"domainColor":"#d9d9d9","domainWidth":3,"tickColor":"#d9d9d9","tickWidth":3,"tickSize":14,"labelPadding":8,"labelFontSize":38,"labelColor":"#595959","labelFont":"Roboto",
 "values":[{"year":2021,"month":9,"date":30,"utc":true},{"year":2021,"month":10,"date":31,"utc":true},{"year":2021,"month":11,"date":30,"utc":true},{"year":2021,"month":12,"date":31,"utc":true},{"year":2022,"month":1,"date":31,"utc":true},{"year":2022,"month":2,"date":28,"utc":true},{"year":2022,"month":3,"date":31,"utc":true},{"year":2022,"month":4,"date":30,"utc":true},{"year":2022,"month":5,"date":31,"utc":true},{"year":2022,"month":6,"date":30,"utc":true},{"year":2022,"month":7,"date":31,"utc":true},{"year":2022,"month":8,"date":31,"utc":true},{"year":2022,"month":9,"date":30,"utc":true},{"year":2022,"month":10,"date":31,"utc":true},{"year":2022,"month":11,"date":30,"utc":true},{"year":2022,"month":12,"date":31,"utc":true},{"year":2023,"month":1,"date":31,"utc":true},{"year":2023,"month":2,"date":28,"utc":true},{"year":2023,"month":3,"date":31,"utc":true},{"year":2023,"month":4,"date":30,"utc":true},{"year":2023,"month":5,"date":31,"utc":true},{"year":2023,"month":6,"date":30,"utc":true},{"year":2023,"month":7,"date":31,"utc":true},{"year":2023,"month":8,"date":31,"utc":true},{"year":2023,"month":9,"date":30,"utc":true},{"year":2023,"month":10,"date":31,"utc":true},{"year":2023,"month":11,"date":30,"utc":true}]}},
"y":{"field":"value","type":"quantitative","scale":{"domain":[0,120],"nice":false},
 "axis":{"title":null,"values":[0,20,40,60,80,100,120],"domain":false,"ticks":false,"gridColor":"#d9d9d9","gridWidth":3,"labelPadding":40,"labelFontSize":38,"labelColor":"#595959","labelFont":"Roboto"}}
},
"layer":[
{"data":{"name":"despac"},"mark":{"type":"line","color":"black","strokeWidth":9,"strokeCap":"round","strokeJoin":"round"},
 "encoding":{"strokeDash":{"datum":"DeSPAC Index - Total Return","type":"nominal",
  "scale":{"domain":["DeSPAC Index - Total Return","Benson Hill","Russelll 3000 - Total Return"],"range":[[25,41],[1,0],[0.5,16.8]]},
  "legend":{"title":null,"orient":"none","direction":"horizontal","legendX":999,"legendY":1232,"symbolType":"stroke","symbolSize":11500,"symbolStrokeWidth":9,"symbolStrokeColor":"black","labelFontSize":40,"labelColor":"#595959","labelFont":"Roboto","labelLimit":1000,"labelOffset":16,"columnPadding":40,
   "encoding":{"symbols":{"strokeCap":{"value":"round"}}}}}}},
{"data":{"name":"benson"},"mark":{"type":"line","color":"black","strokeWidth":9,"strokeCap":"round","strokeJoin":"round"},
 "encoding":{"strokeDash":{"datum":"Benson Hill","type":"nominal"}}},
{"data":{"name":"russell"},"mark":{"type":"line","color":"black","strokeWidth":9,"strokeCap":"round","strokeJoin":"round"},
 "encoding":{"strokeDash":{"datum":"Russelll 3000 - Total Return","type":"nominal"}}}
]
}
